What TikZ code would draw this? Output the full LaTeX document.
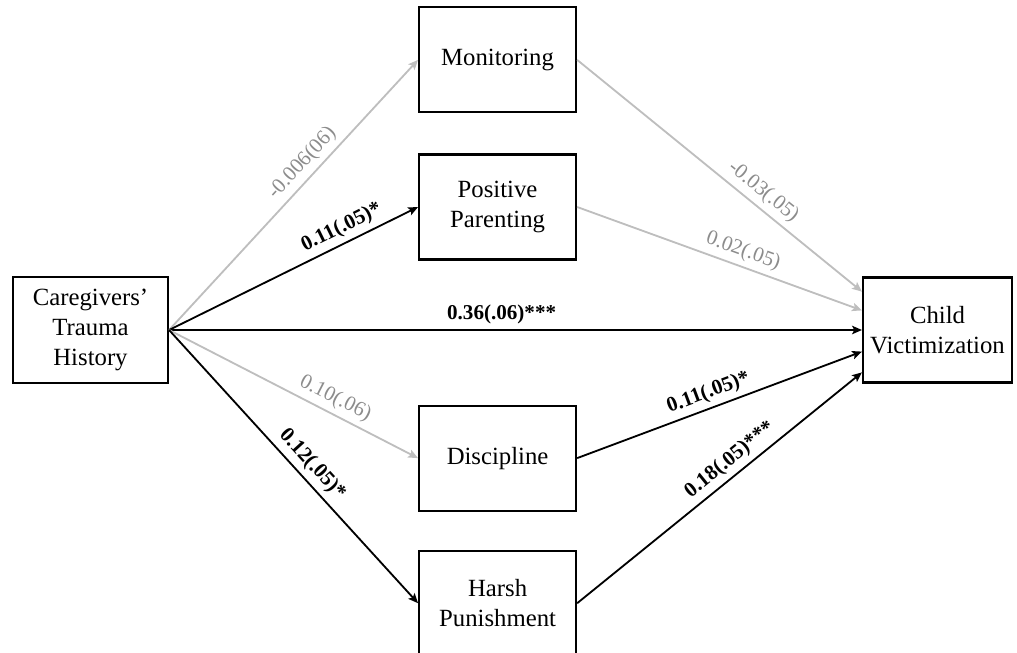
\documentclass[tikz,border=0pt]{standalone}
\usepackage{fontspec}
\setmainfont{Liberation Serif}
\usetikzlibrary{positioning, arrows.meta, calc}
\definecolor{pathGray}{RGB}{190,190,190}
\definecolor{labelGray}{RGB}{140,140,140}

\begin{document}
\begin{tikzpicture}[
    >={Stealth[length=7pt, width=6pt, inset=1.5pt]},
    box/.style={draw, line width=1.5pt, minimum width=3.925cm,
                minimum height=2.625cm, align=center,
                font=\fontsize{17.6}{21.3}\selectfont},
    sig/.style={->, line width=1.3pt, black},
    nsig/.style={->, line width=1.3pt, pathGray},
    est/.style={sloped, above, font=\fontsize{15}{18}\selectfont\bfseries},
    nest/.style={sloped, above, font=\fontsize{15}{18}\selectfont, text=labelGray}
]
\useasboundingbox (0,0) rectangle (25.425,-16.3);

\node[box, minimum width=3.875cm, minimum height=2.65cm] (trauma) at (2.2625,-8.25)
     {Caregivers’\\Trauma\\History};
\node[box] (posit) at (12.44,-5.175) {Positive\\Parenting};
\node[box, above=1cm of posit] (monit) {Monitoring};
\node[box, below=3.6cm of posit] (disc) {Discipline};
\node[box, below=0.95cm of disc] (harsh) {Harsh\\Punishment};
\node[box, minimum width=3.725cm] (child) at (23.4375,-8.25) {Child\\Victimization};

% ---- arrival points on the outcome box ----
\foreach \k/\dy in {1/0.96, 2/0.49, 3/0, 4/-0.54, 5/-1.06}
  \coordinate (in\k) at ($(child.west)+(0,\dy)$);

% ---- paths out of trauma history ----
\draw[nsig] (trauma.east) -- node[nest, pos=0.58]{-0.006(06)} (monit.west);
\draw[sig] (trauma.east) -- node[est, pos=0.72]{0.11(.05)*} (posit.west);
\draw[sig] (trauma.east) -- node[est, pos=0.48]{0.36(.06)***} (in3);
\draw[nsig] (trauma.east) -- node[nest, pos=0.64]{0.10(.06)} (disc.west);
\draw[sig] (trauma.east) -- node[est, pos=0.53]{0.12(.05)*} (harsh.west);

% ---- paths into child victimization ----
\draw[nsig] (monit.east) -- node[nest, pos=0.62]{-0.03(.05)} (in1);
\draw[nsig] (posit.east) -- node[nest, pos=0.565]{0.02(.05)} (in2);
\draw[sig] (disc.east) -- node[est, pos=0.48]{0.11(.05)*} (in4);
\draw[sig] (harsh.east) -- node[est, pos=0.57]{0.18(.05)***} (in5);
\end{tikzpicture}
\end{document}
